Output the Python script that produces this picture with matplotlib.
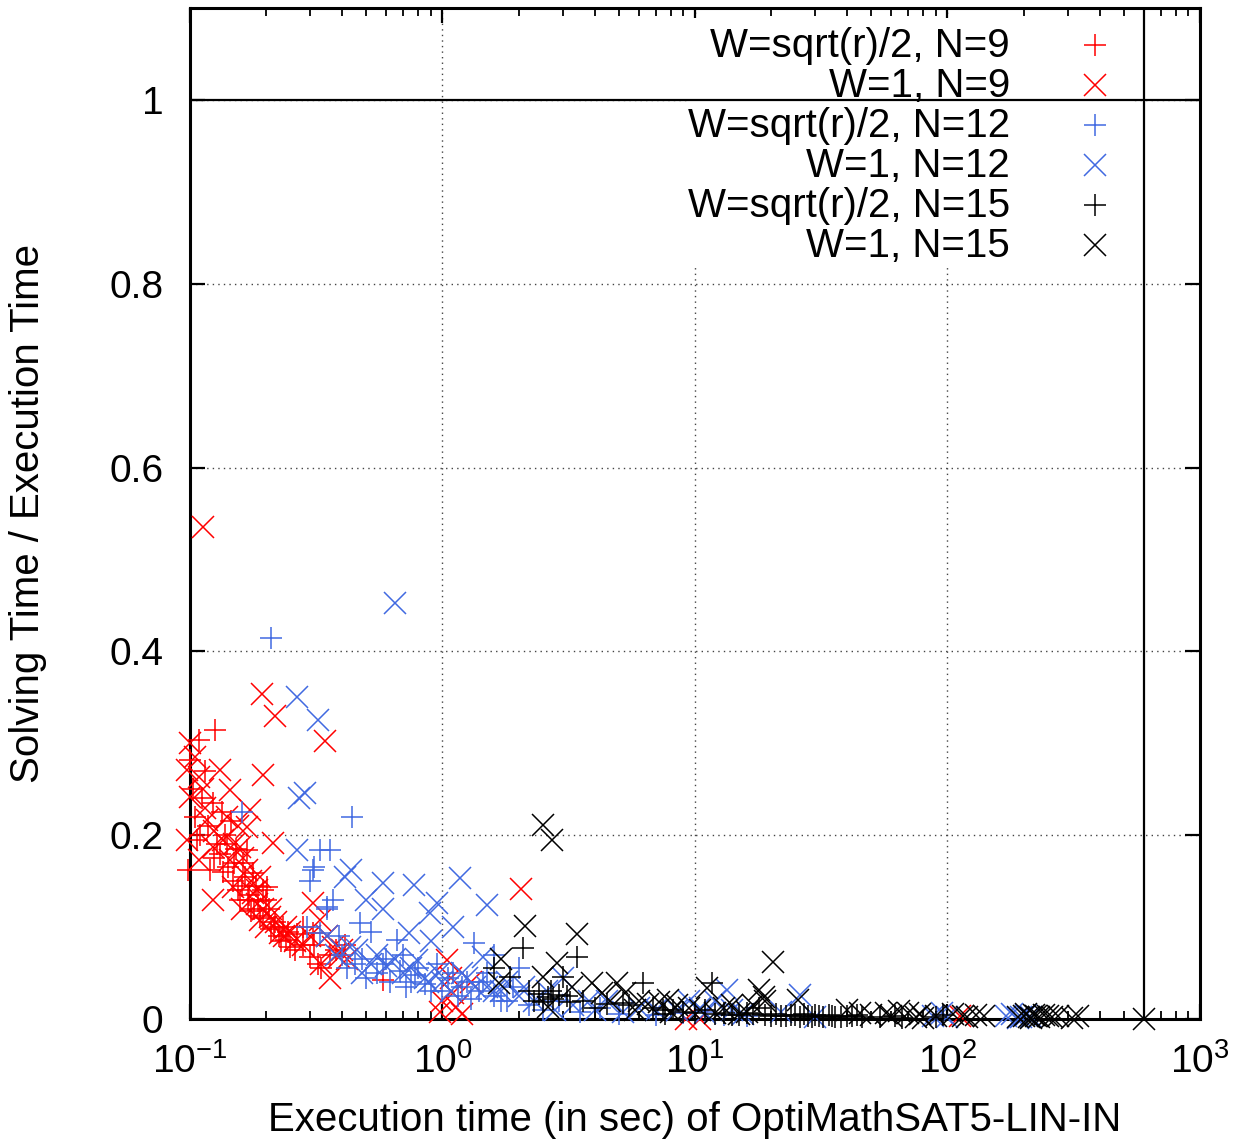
import numpy as np
import matplotlib.pyplot as plt
from matplotlib.ticker import LogLocator, FixedLocator, NullLocator
from matplotlib.patches import Rectangle

plt.rcParams['font.family'] = ['Liberation Sans', 'DejaVu Sans']
plt.rcParams['mathtext.fontset'] = 'custom'
plt.rcParams['mathtext.rm'] = 'Liberation Sans'
plt.rcParams['mathtext.it'] = 'Liberation Sans'

# W=sqrt(r)/2, N=9
sq9_x = [0.098, 0.1, 0.103, 0.105, 0.107, 0.109, 0.112, 0.115, 0.118, 0.12, 0.123, 0.126,
         0.128, 0.131, 0.134, 0.138, 0.142, 0.145, 0.148, 0.152, 0.155, 0.158, 0.162, 0.165,
         0.168, 0.172, 0.175, 0.178, 0.182, 0.186, 0.19, 0.195, 0.201, 0.205, 0.21, 0.218,
         0.225, 0.233, 0.24, 0.25, 0.265, 0.28, 0.3, 0.307, 0.32, 0.36, 0.41, 0.58,
         0.11, 0.125, 0.135, 0.14, 0.15, 0.16, 0.17, 0.18, 0.195, 0.2, 0.215, 0.23,
         0.245, 0.26, 0.28, 0.31, 0.33, 0.38]
sq9_y = [0.162, 0.282, 0.25, 0.22, 0.195, 0.304, 0.24, 0.27, 0.21, 0.162, 0.235, 0.314,
         0.19, 0.18, 0.225, 0.2, 0.165, 0.215, 0.15, 0.185, 0.14, 0.129, 0.17, 0.155,
         0.184, 0.135, 0.118, 0.159, 0.145, 0.128, 0.112, 0.14, 0.144, 0.12, 0.098, 0.105,
         0.09, 0.1, 0.086, 0.078, 0.092, 0.08, 0.067, 0.094, 0.06, 0.07, 0.08, 0.042,
         0.2, 0.175, 0.16, 0.19, 0.17, 0.145, 0.13, 0.12, 0.11, 0.13, 0.1, 0.085,
         0.095, 0.075, 0.1, 0.08, 0.055, 0.075]

# W=1, N=9
w1_9_x = [0.1126, 0.193, 0.217, 0.342, 0.195, 0.097, 0.109, 0.131, 0.144, 0.1, 0.173, 0.168,
          0.123, 0.097, 0.213, 0.144, 0.168, 0.19, 0.123, 0.148, 0.178, 0.207, 0.19, 0.227,
          0.307, 0.327, 0.37, 0.39, 0.36, 0.117, 0.135, 0.109, 0.158, 0.1, 0.105, 0.115,
          0.155, 0.16, 0.185, 0.2, 0.24, 0.26, 0.35, 2.04, 1.04, 1.08, 1.0, 1.13, 1.1, 1.2,
          0.98, 1.3, 9.2, 10.5, 112,
          0.113, 0.125, 0.14, 0.15, 0.162, 0.175, 0.185, 0.195, 0.21, 0.22, 0.235, 0.25,
          0.28, 0.3, 0.33, 0.42, 0.4]
w1_9_y = [0.535, 0.354, 0.33, 0.303, 0.266, 0.271, 0.263, 0.271, 0.249, 0.242, 0.227, 0.209,
          0.187, 0.195, 0.191, 0.173, 0.162, 0.155, 0.129, 0.144, 0.137, 0.111, 0.108, 0.094,
          0.126, 0.108, 0.078, 0.067, 0.045, 0.217, 0.195, 0.173, 0.187, 0.3, 0.285, 0.23,
          0.21, 0.12, 0.125, 0.1, 0.1, 0.085, 0.09, 0.141, 0.064, 0.045, 0.02, 0.013, 0.028, 0.005,
          0.008, 0.04, 0.0, 0.0, 0.003,
          0.25, 0.205, 0.22, 0.19, 0.175, 0.15, 0.14, 0.12, 0.12, 0.105, 0.09, 0.095,
          0.08, 0.09, 0.06, 0.065, 0.075]

# W=sqrt(r)/2, N=12
sq12_x = [0.21, 0.44, 0.36, 0.31, 0.3, 0.37, 0.35, 0.47, 0.66, 0.7, 1.33, 0.52, 0.16, 0.327,
          0.307, 0.35, 0.327, 0.45, 0.55, 0.6, 0.75, 0.8, 0.9, 0.95, 1.05, 1.15, 1.25, 1.4,
          1.5, 1.7, 1.9, 2.2, 2.5, 2.9, 3.5, 4.2, 5.0, 7.0, 9.0, 11.0, 13.0, 16.0, 1.6, 2.0,
          0.4, 0.42, 0.48, 0.5, 0.58, 0.62, 0.68, 0.72, 0.78, 0.85, 1.0, 1.1, 1.2, 1.3,
          1.45, 1.6, 1.8, 0.29, 0.39]
sq12_y = [0.415, 0.22, 0.184, 0.165, 0.15, 0.129, 0.12, 0.104, 0.086, 0.07, 0.083, 0.095, 0.225, 0.184,
          0.162, 0.122, 0.094, 0.06, 0.05, 0.065, 0.04, 0.055, 0.03, 0.06, 0.045, 0.025, 0.04, 0.03,
          0.05, 0.02, 0.035, 0.015, 0.01, 0.02, 0.008, 0.012, 0.005, 0.004, 0.006, 0.008, 0.004, 0.003, 0.07, 0.055,
          0.07, 0.055, 0.065, 0.045, 0.06, 0.04, 0.052, 0.035, 0.048, 0.038, 0.03, 0.05, 0.035, 0.022,
          0.04, 0.025, 0.02, 0.1, 0.09]

# W=1, N=12
w1_12_x = [0.65, 0.265, 0.32, 0.285, 0.27, 0.265, 0.433, 0.41, 0.58, 0.77, 1.17, 0.5, 0.58, 0.95,
           1.5, 0.89, 0.74, 0.43, 0.46, 1.45, 0.55, 0.79, 0.6, 0.7, 0.85, 1.0, 1.2, 1.35, 1.6,
           1.8, 2.0, 2.3, 2.6, 3.0, 3.3, 4.0, 4.5, 5.2, 6.0, 8.5, 10.5, 12.0, 13.4, 14.0, 15.5,
           26.0, 30.0, 88.0, 95.0, 170.0, 180.0, 195.0, 205.0, 0.35, 0.9, 1.1,
           0.38, 0.48, 0.52, 0.65, 0.75, 0.88, 0.97, 1.08, 1.25, 1.5, 1.7, 2.1, 2.8, 3.8,
           7.0, 9.5, 11.0, 22.0, 100.0, 190.0, 215.0]
w1_12_y = [0.453, 0.35, 0.325, 0.246, 0.24, 0.184, 0.162, 0.155, 0.148, 0.146, 0.153, 0.13, 0.12, 0.126,
           0.124, 0.115, 0.094, 0.078, 0.075, 0.067, 0.07, 0.064, 0.058, 0.05, 0.045, 0.04, 0.05, 0.035, 0.03,
           0.04, 0.025, 0.02, 0.03, 0.045, 0.015, 0.01, 0.02, 0.008, 0.012, 0.01, 0.012, 0.02, 0.032, 0.01, 0.005,
           0.026, 0.002, 0.003, 0.006, 0.003, 0.005, 0.002, 0.004, 0.09, 0.085, 0.1,
           0.07, 0.05, 0.06, 0.065, 0.055, 0.04, 0.05, 0.03, 0.045, 0.035, 0.03, 0.035, 0.01, 0.02,
           0.01, 0.02, 0.006, 0.008, 0.002, 0.001, 0.002]

# W=sqrt(r)/2, N=15
sq15_x = [2.08, 3.42, 1.85, 6.2, 2.62, 2.75, 2.9, 3.0, 5.2, 5.5, 7.5, 8.2, 11.7, 7.6, 2.3, 2.4,
          3.2, 3.6, 4.0, 4.5, 6.8, 9.0, 10.0, 11.0, 13.0, 15.0, 17.0, 22.0, 24.0, 26.0, 28.0,
          30.0, 32.0, 35.0, 38.0, 42.0, 46.0, 54.0, 62.0, 66.0, 90.0, 96.0, 18.0, 1.6,
          12.0, 14.0, 16.0, 19.0, 20.0, 21.0, 23.0, 25.0, 27.0, 29.0, 31.0, 34.0, 36.0, 40.0,
          44.0, 2.2, 2.5, 2.7, 3.1]
sq15_y = [0.077, 0.067, 0.046, 0.039, 0.024, 0.022, 0.026, 0.046, 0.017, 0.015, 0.01, 0.01, 0.039, 0.005, 0.02, 0.027,
          0.018, 0.02, 0.012, 0.016, 0.012, 0.008, 0.006, 0.01, 0.007, 0.004, 0.005, 0.003, 0.004, 0.002, 0.003,
          0.004, 0.002, 0.003, 0.002, 0.003, 0.002, 0.002, 0.003, 0.001, 0.002, 0.004, 0.012, 0.055,
          0.005, 0.004, 0.006, 0.004, 0.003, 0.005, 0.003, 0.004, 0.005, 0.002, 0.003, 0.004, 0.002, 0.003,
          0.004, 0.03, 0.018, 0.03, 0.025]

# W=1, N=15
w1_15_x = [2.5, 2.72, 2.12, 3.42, 1.7, 2.84, 1.68, 2.5, 3.9, 4.9, 5.3, 2.62, 3.25, 4.3, 7.2, 8.0,
           20.3, 18.0, 11.2, 18.7, 25.6, 40.0, 7.8, 14.0, 16.0, 50.0, 57.0, 64.0, 70.0, 78.0, 80.0,
           105.0, 115.0, 130.0, 190.0, 200.0, 210.0, 220.0, 230.0, 250.0, 275.0, 310.0, 330.0,
           600.0, 6.0, 9.5, 12.0,
           4.6, 5.8, 6.5, 8.5, 10.5, 13.0, 15.0, 17.0, 19.0, 45.0, 60.0, 75.0, 90.0, 120.0,
           140.0, 205.0, 215.0, 225.0, 240.0, 260.0]
w1_15_y = [0.211, 0.195, 0.101, 0.092, 0.065, 0.061, 0.039, 0.046, 0.039, 0.039, 0.028, 0.013, 0.035, 0.028, 0.018, 0.008,
           0.062, 0.032, 0.034, 0.024, 0.021, 0.01, 0.021, 0.015, 0.008, 0.004, 0.006, 0.009, 0.007, 0.005, 0.001,
           0.005, 0.003, 0.004, 0.002, 0.003, 0.002, 0.004, 0.002, 0.003, 0.003, 0.001, 0.003,
           0.0, 0.02, 0.012, 0.006,
           0.02, 0.01, 0.016, 0.015, 0.01, 0.012, 0.005, 0.015, 0.02, 0.006, 0.003, 0.002, 0.003, 0.002,
           0.003, 0.005, 0.001, 0.003, 0.004, 0.002]

series = [
    (sq9_x, sq9_y, '+', 'red', 'W=sqrt(r)/2, N=9'),
    (w1_9_x, w1_9_y, 'x', 'red', 'W=1, N=9'),
    (sq12_x, sq12_y, '+', 'royalblue', 'W=sqrt(r)/2, N=12'),
    (w1_12_x, w1_12_y, 'x', 'royalblue', 'W=1, N=12'),
    (sq15_x, sq15_y, '+', 'black', 'W=sqrt(r)/2, N=15'),
    (w1_15_x, w1_15_y, 'x', 'black', 'W=1, N=15'),
]

fig = plt.figure(figsize=(12.39, 11.44), dpi=100)
ax = fig.add_axes([190 / 1239, 125 / 1144, 1010 / 1239, 1011 / 1144])

ax.set_xscale('log')
ax.set_xlim(0.1, 1000)
ax.set_ylim(0, 1.1)

for xs, ys, m, c, lab in series:
    ax.plot(xs, ys, linestyle='none', marker=m, markersize=16.5, markeredgewidth=1.1,
            color=c, clip_on=False, zorder=3)

# reference lines: ratio 1 and timeout
ax.axhline(1.0, color='black', lw=1.6, zorder=2)
ax.axvline(600, color='black', lw=1.6, zorder=2)

# key in the upper right, text on the left of the symbol
ax.add_patch(Rectangle((0.495, 0.745), 0.44, 0.245, transform=ax.transAxes,
                       facecolor='white', edgecolor='none', zorder=1))
for i, (xs, ys, m, c, lab) in enumerate(series):
    yb = 0.9515 - 0.03956 * i
    ax.text(0.812, yb, lab, transform=ax.transAxes, ha='right', va='baseline',
            fontsize=29, zorder=4)
    ax.plot([0.896], [yb + 0.0119], transform=ax.transAxes, linestyle='none', marker=m,
            markersize=16.5, markeredgewidth=1.1, color=c, zorder=4)

ax.xaxis.set_minor_locator(LogLocator(base=10, subs=np.arange(2, 10), numticks=20))
ax.set_xticks([0.1, 1, 10, 100, 1000])
ax.set_xticklabels(['$10^{-1}$', '$10^{0}$', '$10^{1}$', '$10^{2}$', '$10^{3}$'])
ax.yaxis.set_major_locator(FixedLocator([0, 0.2, 0.4, 0.6, 0.8, 1.0]))
ax.yaxis.set_minor_locator(NullLocator())
ax.set_yticklabels(['0', '0.2', '0.4', '0.6', '0.8', '1'])

ax.tick_params(which='both', direction='in', top=True, right=True, labelsize=28)
ax.tick_params(which='major', length=11, width=1.6)
ax.tick_params(which='minor', length=6, width=1.3)
ax.tick_params(axis='y', pad=19)
ax.tick_params(axis='x', pad=17)

ax.set_axisbelow(True)
ax.grid(True, which='major', linestyle=(0, (1, 3)), color='#444444', linewidth=1.0)
for s in ax.spines.values():
    s.set_linewidth(2.2)

ax.set_xlabel('Execution time (in sec) of OptiMathSAT5-LIN-IN', fontsize=29, labelpad=15)
ax.set_ylabel('Solving Time / Execution Time', fontsize=29, labelpad=45)

plt.savefig('out.png', dpi=100)
